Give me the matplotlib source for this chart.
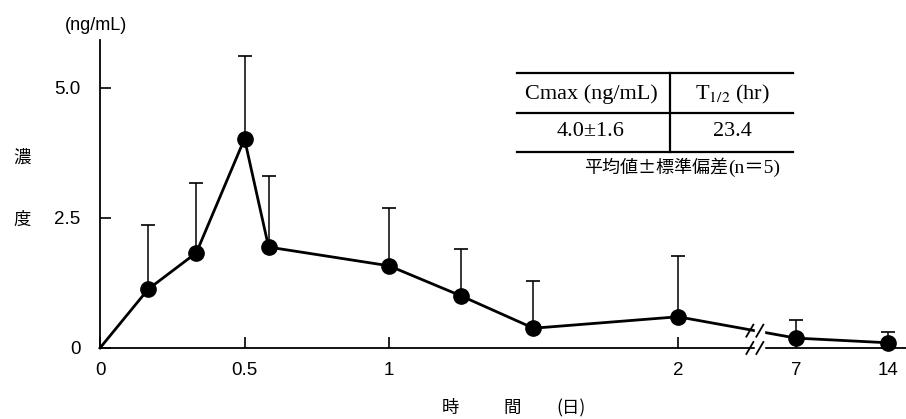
#!/usr/bin/env python3

import numpy as np
import matplotlib
matplotlib.use('Agg')
import matplotlib.pyplot as plt
from matplotlib.lines import Line2D

# Data (days, ng/mL)
days = [0, 1/6, 1/3, 0.5, 7/12, 1, 1.25, 1.5, 2, 7, 14]
conc = [0, 1.13, 1.83, 4.02, 1.94, 1.58, 1.0, 0.38, 0.6, 0.19, 0.1]
sd = [0, 1.24, 1.34, 1.60, 1.37, 1.12, 0.90, 0.91, 1.17, 0.35, 0.21]

xtick_vals = [0, 0.5, 1, 2, 7, 14]
xtick_labels = ['0', '0.5', '1', '2', '7', '14']
ytick_vals = [0, 2.5, 5.0]
ytick_labels = ['0', '2.5', '5.0']

table_header = ['Cmax (ng/mL)', r'T$_{1/2}$ (hr)']
table_values = ['4.0±1.6', '23.4']
note_jp = '平均値±標準偏差'
note_n = '(n＝5)'

# Broken x axis: linear up to day 2, compressed beyond
anchor_in = [0, 2, 7, 14, 20]
anchor_out = [0, 2, 2.408, 2.727, 3.0]

def fwd(x):
    return np.interp(x, anchor_in, anchor_out)

def inv(x):
    return np.interp(x, anchor_out, anchor_in)

jp = ['Noto Sans CJK JP', 'DejaVu Sans']
tickfont = ['Liberation Sans Narrow', 'Liberation Sans', 'DejaVu Sans']
plt.rcParams['mathtext.fontset'] = 'stix'

fig = plt.figure(figsize=(9.06, 4.19), dpi=100)
ax = fig.add_axes([0.1104, 0.1695, 0.8896, 0.735])
ax.set_xscale('function', functions=(fwd, inv))
ax.set_xlim(0, inv(2.789))
ax.set_ylim(0, 5.92)

ax.spines['top'].set_visible(False)
ax.spines['right'].set_visible(False)
ax.spines['left'].set_linewidth(1.3)
ax.spines['bottom'].set_linewidth(1.3)

ax.set_xticks(xtick_vals)
ax.set_xticklabels(xtick_labels, family=tickfont, fontsize=13.5)
ax.set_yticks(ytick_vals)
ax.set_yticklabels(ytick_labels, family=tickfont, fontsize=13.5)
ax.xaxis.set_minor_locator(matplotlib.ticker.NullLocator())
ax.tick_params(axis='x', direction='in', length=8, width=1.2, pad=10)
ax.tick_params(axis='y', direction='in', length=8, width=1.2, pad=14)

# error bars (upper only)
ax.errorbar(days[1:], conc[1:], yerr=[np.zeros(len(sd) - 1), sd[1:]],
            fmt='none', ecolor='black', elinewidth=1.1, capsize=5, capthick=1.2,
            zorder=2)
ax.plot(days, conc, color='black', linewidth=2, marker='o', markersize=11,
        markevery=list(range(1, len(days))), zorder=3, clip_on=False)

# break marks on axis and on line
def break_marks(xc_t, yc_px):
    for dx in (-5, 5):
        x_px = ax.transData.transform((inv(xc_t), 0))[0] + dx
        pts = [(x_px - 3.5, yc_px - 6), (x_px + 3.5, yc_px + 6)]
        fpts = [fig.transFigure.inverted().transform(p) for p in pts]
        fig.add_artist(Line2D([fpts[0][0], fpts[1][0]], [fpts[0][1], fpts[1][1]],
                              color='black', linewidth=1.3, zorder=10))

brk = 2.266
brk_day = inv(brk)
x0_px = ax.transData.transform((brk_day, 0))
gap = plt.Rectangle((brk_day, -0.05), inv(brk + 0.03) - brk_day, 0.1,
                    transform=ax.transData, color='white', zorder=5, clip_on=False)
ax.add_patch(gap)
break_marks(brk, x0_px[1])
y_line = np.interp(brk, [2, 2.408], [conc[8], conc[9]])
y_line_px = ax.transData.transform((brk_day, y_line))[1]
gap2 = plt.Rectangle((brk_day, y_line - 0.12), inv(brk + 0.03) - brk_day, 0.24,
                     transform=ax.transData, color='white', zorder=5)
ax.add_patch(gap2)
break_marks(brk, y_line_px)

def px(x, y):
    return x / 906, 1 - y / 419

# axis labels
fig.text(*px(65, 25), '(ng/mL)', family=tickfont, fontsize=13, ha='left', va='center')
fig.text(*px(22, 158), '濃', family=jp, fontsize=12.5, ha='center', va='center')
fig.text(*px(22, 220), '度', family=jp, fontsize=12.5, ha='center', va='center')
fig.text(*px(450, 408), '時', family=jp, fontsize=12.5, ha='center', va='center')
fig.text(*px(512, 408), '間', family=jp, fontsize=12.5, ha='center', va='center')
fig.text(*px(571, 408), '(日)', family=jp, fontsize=12.5, ha='center', va='center')

# inset table
for y in (73, 113, 152):
    a, b = px(517, y), px(793, y)
    fig.add_artist(Line2D([a[0], b[0]], [a[1], b[1]], color='black', linewidth=1.6))
a, b = px(670, 73), px(670, 152)
fig.add_artist(Line2D([a[0], b[0]], [a[1], b[1]], color='black', linewidth=1.6))

serif = ['Liberation Serif', 'DejaVu Serif']
for cx, txt in zip((591, 732), table_header):
    fig.text(*px(cx, 94), txt, family=serif, fontsize=16, ha='center', va='center')
for cx, txt in zip((591, 732), table_values):
    fig.text(*px(cx, 132), txt, family=serif, fontsize=16, ha='center', va='center')

# note under the table: Japanese part + serif "(n=5)"
t_n = fig.text(*px(780, 168), note_n, family=['Liberation Serif', 'Noto Sans CJK JP'],
               fontsize=14, ha='right', va='center')
fig.canvas.draw()
w = t_n.get_window_extent().width
fig.text(*px(780 - w, 168), note_jp, family=jp, fontsize=13,
         ha='right', va='center')

fig.savefig('out.png', dpi=100)
